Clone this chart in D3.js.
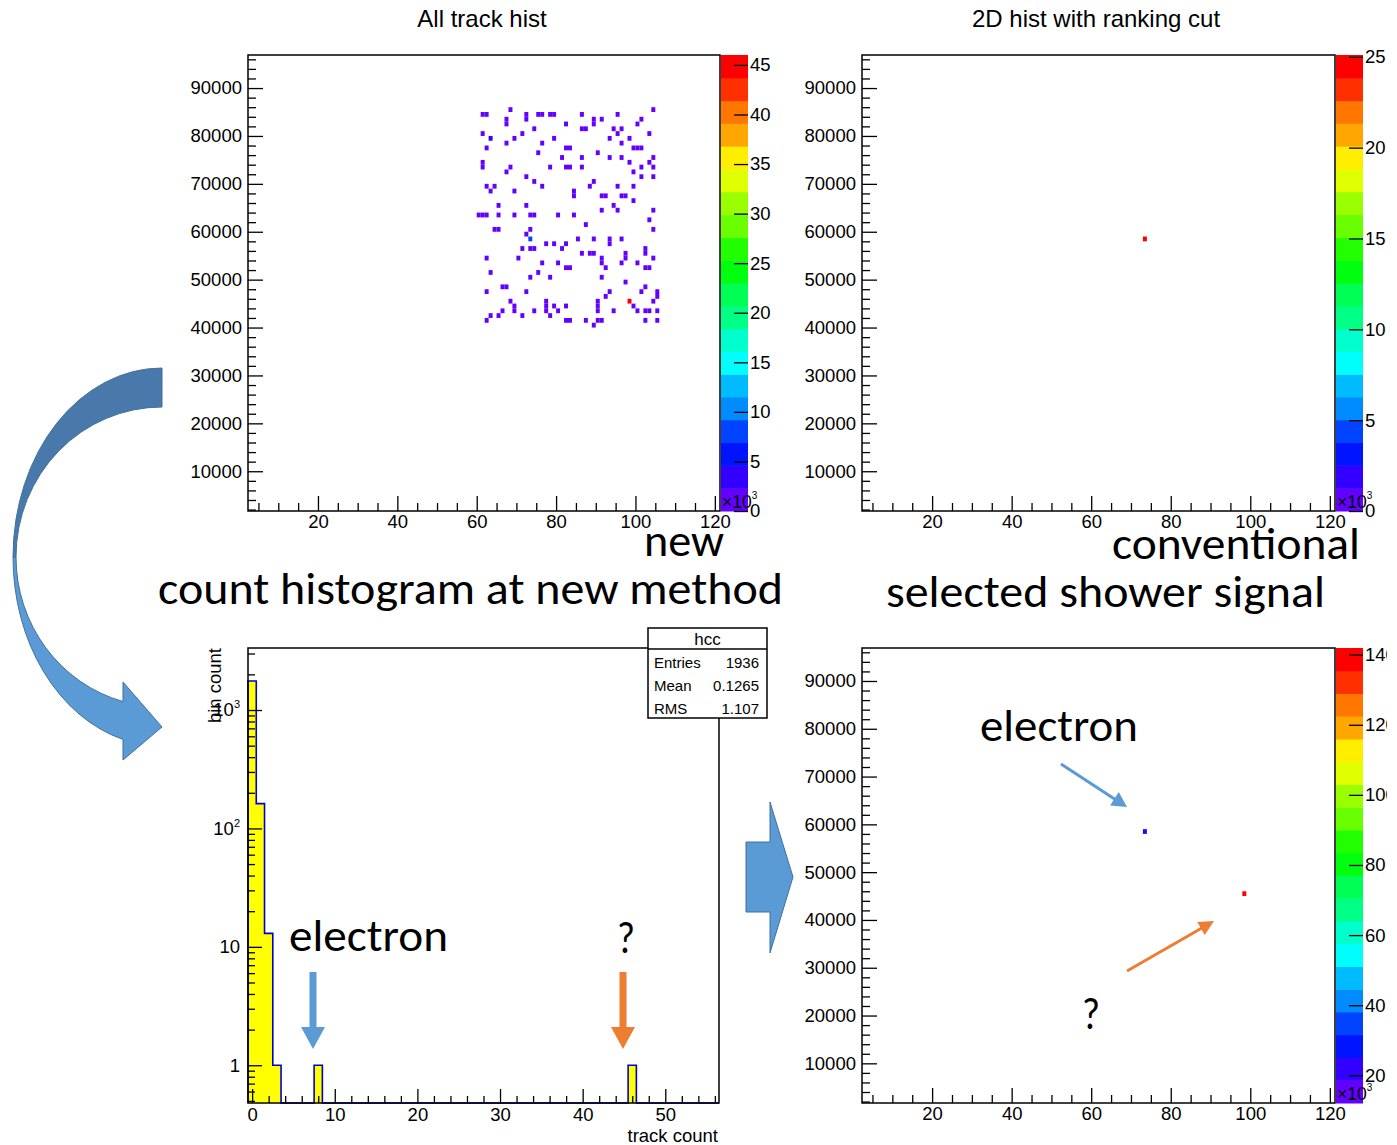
<!DOCTYPE html>
<html><head><meta charset="utf-8">
<script src="https://cdn.jsdelivr.net/npm/d3@7"></script>
<style>
html,body{margin:0;padding:0;background:#fff;}
svg{display:block;}
</style></head><body>
<svg id="c" width="1397" height="1145"></svg>
<script>
// ---------------- data ----------------
// "All track hist": occupied 1k x 1k bins (x in units of 10^3, y raw), lower bin edges
const allTrackX = [
  68,104,
  61,62,75,76,78,79,86,95,72,
  67,72,89,91,101,
  67,89,100,82,
  74,86,87,94,96,
  95,61,71,103,
  63,69,79,93,98,
  67,76,96,
  62,82,83,99,100,101,
  75,90,
  81,86,93,96,104,
  61,98,103,
  61,68,78,82,83,86,101,104,
  67,99,
  72,101,104,
  74,89,
  62,64,76,88,95,99,
  63,69,84,
  84,91,92,96,97,
  99,
  65,72,94,
  91,95,104,
  60,61,62,65,69,73,74,80,84,
  103,
  87,
  64,65,73,104,
  72,
  73,85,89,93,96,
  93,77,79,82,
  71,73,74,81,102,
  86,88,89,97,102,
  62,70,91,97,104,
  91,76,80,96,100,
  82,83,92,102,103,
  63,75,
  73,78,91,
  97,
  66,67,102,
  62,72,93,101,105,
  105,92,
  68,98,104,77,90,
  69,77,79,82,90,99,
  66,69,77,80,90,100,103,105,94,102,74,
  63,65,71,78,
  62,82,83,87,90,91,102,105,
  89
];
const allTrackY = [
  85000,85000,
  84000,84000,84000,84000,84000,84000,84000,84000,84000,
  83000,83000,83000,83000,83000,
  82000,82000,82000,82000,
  81000,81000,81000,81000,81000,
  80000,80000,80000,80000,
  79000,79000,79000,79000,79000,
  78000,78000,78000,
  77000,77000,77000,77000,77000,77000,
  76000,76000,
  75000,75000,75000,75000,75000,
  74000,74000,74000,
  73000,73000,73000,73000,73000,73000,73000,73000,
  72000,72000,
  71000,71000,71000,
  70000,70000,
  69000,69000,69000,69000,69000,69000,
  68000,68000,68000,
  67000,67000,67000,67000,67000,
  66000,
  65000,65000,65000,
  64000,64000,64000,
  63000,63000,63000,63000,63000,63000,63000,63000,63000,
  62000,
  61000,
  60000,60000,60000,60000,
  59000,
  58000,58000,58000,58000,58000,
  57000,57000,57000,57000,
  56000,56000,56000,56000,56000,
  55000,55000,55000,55000,55000,
  54000,54000,54000,54000,54000,
  53000,53000,53000,53000,53000,
  52000,52000,52000,52000,52000,
  51000,51000,
  50000,50000,50000,
  49000,
  48000,48000,48000,
  47000,47000,47000,47000,47000,
  46000,46000,
  45000,45000,45000,45000,45000,
  44000,44000,44000,44000,44000,44000,
  43000,43000,43000,43000,43000,43000,43000,43000,43000,43000,43000,
  42000,42000,42000,42000,
  41000,41000,41000,41000,41000,41000,41000,41000,
  40000
];
const allTrackN = [
  1,1,
  1,1,1,1,1,1,1,1,1,
  1,1,1,1,1,
  1,1,1,1,
  1,1,1,1,1,
  1,1,1,1,
  3,1,1,1,1,
  1,1,1,
  1,1,1,1,1,1,
  1,1,
  1,1,1,1,1,
  1,1,1,
  1,1,1,1,1,1,1,1,
  1,1,
  1,1,1,
  1,1,
  1,1,1,1,1,1,
  1,1,1,
  1,1,1,1,1,
  1,
  1,1,1,
  1,1,1,
  1,1,1,1,1,1,1,1,1,
  1,
  1,
  1,1,1,1,
  1,
  8,1,1,1,1,
  1,1,1,1,
  1,1,1,1,1,
  1,1,1,1,1,
  1,1,1,1,1,
  1,1,1,1,1,
  1,1,1,1,1,
  1,1,
  1,1,1,
  1,
  1,1,1,
  1,1,1,1,1,
  1,1,
  1,46,1,1,1,
  1,1,1,1,1,1,
  1,1,1,1,1,1,1,1,1,1,1,
  1,1,1,1,
  1,1,1,1,1,1,1,1,
  1
];

// "2D hist with ranking cut"
const rankCutX = [73];
const rankCutY = [58000];
const rankCutN = [25];

// selected shower signal
const selectedX = [73, 98];
const selectedY = [58000, 45000];
const selectedN = [24, 142];

// "hcc": track count per bin
const trackCountValue = [0, 1, 2, 3, 8, 46];
const trackCountBins  = [1758, 162, 13, 1, 1, 1];

// axis ranges and ticks
const xDomain2D = [2.37, 121.3];          // x10^3
const yDomain2D = [1700, 96900];
const x2DMajor = [20, 40, 60, 80, 100, 120];
const x2DMinor = [5,10,15,25,30,35,45,50,55,65,70,75,85,90,95,105,110,115];
const y2DMajor = [10000,20000,30000,40000,50000,60000,70000,80000,90000];
const y2DMinor = d3.range(2000, 96001, 2000).filter(v => v % 10000 !== 0);

const zAllDomain = [0, 46],   zAllTicks = [0,5,10,15,20,25,30,35,40,45];
const zCutDomain = [0, 25.1], zCutTicks = [0,5,10,15,20,25];
const zSelDomain = [12.1, 141.9], zSelTicks = [20,40,60,80,100,120,140];

const histXDomain = [-0.5, 56.5];
const histYDomain = [0.48, 3340];
const histXMajor = [0, 10, 20, 30, 40, 50];
const histXMinor = [2,4,6,8,12,14,16,18,22,24,26,28,32,34,36,38,42,44,46,48,52,54,56];
const histYMajor = [1, 10, 100, 1000];
const histYMinor = [0.5,0.6,0.7,0.8,0.9,2,3,4,5,6,7,8,9,20,30,40,50,60,70,80,90,200,300,400,500,600,700,800,900,2000,3000];

// ---------------- layout ----------------
const FONT = '"Liberation Sans", Arial, Helvetica, sans-serif';
const NOTE_FONT = 'Carlito, Calibri, Lato, "Open Sans", sans-serif';
const AXIS_SIZE = 18.5;
const PANELS = {
  all:  {left: 248, top: 55,  width: 472, height: 456},
  cut:  {left: 862, top: 55,  width: 473, height: 456},
  sel:  {left: 862, top: 648, width: 473, height: 455},
  hist: {left: 248, top: 648, width: 471, height: 455}
};

const svg = d3.select('#c');
svg.append('rect').attr('width', 1397).attr('height', 1145).attr('fill', '#fff');
svg.append('defs').append('clipPath').attr('id', 'edge')
  .append('rect').attr('x', 0).attr('y', 0).attr('width', 1387).attr('height', 1145);

// ROOT pretty palette: 50 HLS colours, violet -> red, shown in 20 contour levels
const NLEV = 20, NCOL = 50;
function levelColor(i) {
  const idx = Math.floor(0.01 + (i + 0.99) * NCOL / NLEV);
  return d3.hsl(280 - (idx + 1) * (280 / NCOL), 1, 0.5).formatHex();
}

function styleAxis(sel, size) {
  sel.attr('font-family', FONT).attr('font-size', size || AXIS_SIZE);
  sel.select('.domain').remove();
  sel.selectAll('line').attr('stroke', '#000').attr('stroke-width', 1.3);
  sel.selectAll('text').attr('fill', '#000');
}

function times10(g, xPos, yPos) {
  const t = g.append('text').attr('x', xPos).attr('y', yPos)
    .attr('font-family', FONT).attr('font-size', 17.5).attr('fill', '#000');
  t.append('tspan').text('\u00d710');
  t.append('tspan').attr('font-size', 10).attr('dy', -9).text('3');
}

function draw2D(p, xs, ys, ns, zDomain, zTicks, clipLabels) {
  const g = svg.append('g');
  const x = d3.scaleLinear().domain(xDomain2D).range([p.left, p.left + p.width]);
  const y = d3.scaleLinear().domain(yDomain2D).range([p.top + p.height, p.top]);
  const zLev = d3.scaleLinear().domain(zDomain).range([0, NLEV]);
  const level = v => Math.max(0, Math.min(NLEV - 1, Math.floor(zLev(v))));
  const cells = xs.map((d, i) => ({x: d, y: ys[i], n: ns[i]}));

  g.append('g').selectAll('rect').data(cells).join('rect')
    .attr('x', d => x(d.x)).attr('y', d => y(d.y + 1000))
    .attr('width', d => x(d.x + 1) - x(d.x))
    .attr('height', d => y(d.y) - y(d.y + 1000))
    .attr('fill', d => levelColor(level(d.n)));

  g.append('rect').attr('x', p.left).attr('y', p.top).attr('width', p.width).attr('height', p.height)
    .attr('fill', 'none').attr('stroke', '#000').attr('stroke-width', 1.5);

  const bottom = p.top + p.height;
  g.append('g').attr('transform', `translate(0,${bottom})`)
    .call(d3.axisBottom(x).tickValues(x2DMinor).tickSize(-8).tickFormat(''))
    .call(styleAxis);
  g.append('g').attr('transform', `translate(0,${bottom})`)
    .call(d3.axisBottom(x).tickValues(x2DMajor).tickSize(-15).tickPadding(4).tickFormat(d3.format('d')))
    .call(styleAxis);
  g.append('g').attr('transform', `translate(${p.left},0)`)
    .call(d3.axisLeft(y).tickValues(y2DMinor).tickSize(-8).tickFormat(''))
    .call(styleAxis);
  g.append('g').attr('transform', `translate(${p.left},0)`)
    .call(d3.axisLeft(y).tickValues(y2DMajor).tickSize(-15).tickPadding(6).tickFormat(d3.format('d')))
    .call(styleAxis);

  // colour bar
  const cbL = p.left + p.width + 1, cbW = 27;
  const zy = d3.scaleLinear().domain(zDomain).range([bottom, p.top]);
  const step = (zDomain[1] - zDomain[0]) / NLEV;
  g.append('g').selectAll('rect').data(d3.range(NLEV)).join('rect')
    .attr('x', cbL).attr('width', cbW)
    .attr('y', i => zy(zDomain[0] + (i + 1) * step))
    .attr('height', i => zy(zDomain[0] + i * step) - zy(zDomain[0] + (i + 1) * step) + 0.5)
    .attr('fill', i => levelColor(i));
  const holder = g.append('g');
  if (clipLabels) holder.attr('clip-path', 'url(#edge)');
  holder.append('g').attr('transform', `translate(${cbL + cbW},0)`)
    .call(d3.axisRight(zy).tickValues(zTicks).tickSize(-14).tickPadding(2).tickFormat(d3.format('d')))
    .call(styleAxis);

  times10(g, p.left + p.width + 2, bottom - 3);
  return {x, y};
}

// ---------------- 2D panels ----------------
draw2D(PANELS.all, allTrackX, allTrackY, allTrackN, zAllDomain, zAllTicks, false);
draw2D(PANELS.cut, rankCutX, rankCutY, rankCutN, zCutDomain, zCutTicks, false);
draw2D(PANELS.sel, selectedX, selectedY, selectedN, zSelDomain, zSelTicks, true);

svg.append('text').attr('x', 482).attr('y', 27).attr('text-anchor', 'middle')
  .attr('font-family', FONT).attr('font-size', 24).text('All track hist');
svg.append('text').attr('x', 1096).attr('y', 27).attr('text-anchor', 'middle')
  .attr('font-family', FONT).attr('font-size', 24).text('2D hist with ranking cut');

// ---------------- track count histogram ----------------
(function () {
  const p = PANELS.hist;
  const g = svg.append('g');
  const bottom = p.top + p.height;
  const x = d3.scaleLinear().domain(histXDomain).range([p.left, p.left + p.width]);
  const y = d3.scaleLog().domain(histYDomain).range([bottom, p.top]);

  const nBins = histXDomain[1] - histXDomain[0];
  const counts = d3.range(nBins).map(b => {
    const k = trackCountValue.indexOf(b);
    return k < 0 ? 0 : trackCountBins[k];
  });
  const pts = [[x(histXDomain[0]), bottom]];
  counts.forEach((c, b) => {
    const v = c > 0 ? y(c) : bottom;
    pts.push([x(b - 0.5), v], [x(b + 0.5), v]);
  });
  pts.push([x(histXDomain[1]), bottom]);
  const line = d3.line();
  g.append('path').attr('d', line(pts) + 'Z').attr('fill', '#ffff00').attr('stroke', 'none');
  g.append('path').attr('d', line(pts)).attr('fill', 'none').attr('stroke', '#0000d0').attr('stroke-width', 1.6);

  g.append('rect').attr('x', p.left).attr('y', p.top).attr('width', p.width).attr('height', p.height)
    .attr('fill', 'none').attr('stroke', '#000').attr('stroke-width', 1.5);

  g.append('g').attr('transform', `translate(0,${bottom})`)
    .call(d3.axisBottom(x).tickValues(histXMinor).tickSize(-7).tickFormat(''))
    .call(styleAxis);
  g.append('g').attr('transform', `translate(0,${bottom})`)
    .call(d3.axisBottom(x).tickValues(histXMajor).tickSize(-14).tickPadding(5).tickFormat(d3.format('d')))
    .call(styleAxis);
  g.append('g').attr('transform', `translate(${p.left},0)`)
    .call(d3.axisLeft(y).tickValues(histYMinor).tickSize(-7).tickFormat(''))
    .call(styleAxis);
  const ya = g.append('g').attr('transform', `translate(${p.left},0)`)
    .call(d3.axisLeft(y).tickValues(histYMajor).tickSize(-14).tickPadding(8).tickFormat(d => d < 100 ? String(d) : ''))
    .call(styleAxis);
  ya.selectAll('.tick').each(function (d) {
    if (d >= 100) {
      const t = d3.select(this).select('text');
      t.append('tspan').text('10');
      t.append('tspan').attr('font-size', 11).attr('dy', -8).text(Math.round(Math.log10(d)));
    }
  });

  g.append('text').attr('x', p.left + p.width - 1).attr('y', 1142).attr('text-anchor', 'end')
    .attr('font-family', FONT).attr('font-size', AXIS_SIZE).text('track count');
  g.append('text').attr('transform', `translate(221,${p.top}) rotate(-90)`).attr('text-anchor', 'end')
    .attr('font-family', FONT).attr('font-size', AXIS_SIZE).text('bin count');

  // statistics box
  const entries = d3.sum(trackCountBins);
  const mean = d3.sum(trackCountValue.map((v, i) => v * trackCountBins[i])) / entries;
  const m2 = d3.sum(trackCountValue.map((v, i) => v * v * trackCountBins[i])) / entries;
  const rms = Math.sqrt(m2 - mean * mean);
  const sb = {x: 648, y: 628, w: 119, h: 90};
  g.append('rect').attr('x', sb.x).attr('y', sb.y).attr('width', sb.w).attr('height', sb.h)
    .attr('fill', '#fff').attr('stroke', '#000').attr('stroke-width', 1.5);
  g.append('line').attr('x1', sb.x).attr('x2', sb.x + sb.w).attr('y1', sb.y + 21).attr('y2', sb.y + 21)
    .attr('stroke', '#000').attr('stroke-width', 1.3);
  g.append('text').attr('x', sb.x + sb.w / 2).attr('y', sb.y + 17).attr('text-anchor', 'middle')
    .attr('font-family', FONT).attr('font-size', 17).text('hcc');
  const rows = [['Entries', String(entries)], ['Mean', mean.toFixed(4)], ['RMS', rms.toPrecision(4)]];
  rows.forEach((r, i) => {
    const yy = sb.y + 40 + i * 23;
    g.append('text').attr('x', sb.x + 6).attr('y', yy).attr('font-family', FONT).attr('font-size', 15).text(r[0]);
    g.append('text').attr('x', sb.x + sb.w - 8).attr('y', yy).attr('text-anchor', 'end')
      .attr('font-family', FONT).attr('font-size', 15).text(r[1]);
  });
})();

// ---------------- notes and arrows ----------------
const BLUE = '#5b9bd5', BLUE_EDGE = '#41719c', BLUE_DARK = '#4879aa', ORANGE = '#ed7d31';

function note(txt, xPos, yPos, len, anchor) {
  const t = svg.append('text').attr('x', xPos).attr('y', yPos)
    .attr('font-family', NOTE_FONT).attr('font-size', 46).attr('fill', '#000')
    .attr('text-anchor', anchor || 'start').text(txt);
  if (len) t.attr('textLength', len).attr('lengthAdjust', 'spacingAndGlyphs');
}
note('new', 724, 556, 80, 'end');
note('count histogram at new method', 158, 604, 625);
note('conventional', 1112, 559, 248);
note('selected shower signal', 886, 607, 439);
note('electron', 289, 951, 159);
note('?', 617, 953, 18);
note('electron', 980, 741, 158);
note('?', 1082, 1029, 18);

function downArrow(cx, yTop, yTip, shaftW, headW, headL, color) {
  const yh = yTip - headL;
  const pts = [[cx - shaftW / 2, yTop], [cx + shaftW / 2, yTop], [cx + shaftW / 2, yh], [cx + headW / 2, yh],
               [cx, yTip], [cx - headW / 2, yh], [cx - shaftW / 2, yh]];
  svg.append('path').attr('d', d3.line()(pts) + 'Z').attr('fill', color);
}
downArrow(313, 972, 1049, 7, 24, 22, BLUE);
downArrow(623, 972, 1049, 7, 24, 22, ORANGE);

function lineArrow(x0, y0, x1, y1, headL, headW, color) {
  const dx = x1 - x0, dy = y1 - y0, L = Math.hypot(dx, dy), ux = dx / L, uy = dy / L;
  const bx = x1 - ux * headL, by = y1 - uy * headL;
  svg.append('line').attr('x1', x0).attr('y1', y0).attr('x2', bx + ux * 2).attr('y2', by + uy * 2)
    .attr('stroke', color).attr('stroke-width', 3);
  const pts = [[x1, y1], [bx - uy * headW / 2, by + ux * headW / 2], [bx + uy * headW / 2, by - ux * headW / 2]];
  svg.append('path').attr('d', d3.line()(pts) + 'Z').attr('fill', color);
}
lineArrow(1061, 764, 1127, 807, 15, 16, BLUE);
lineArrow(1127, 971, 1214, 921, 15, 15, ORANGE);

// block arrow between the lower panels
(function () {
  const pts = [[746, 842], [770, 842], [770, 802], [793, 877], [770, 953], [770, 912], [746, 912]];
  svg.append('path').attr('d', d3.line()(pts) + 'Z').attr('fill', BLUE)
    .attr('stroke', BLUE_EDGE).attr('stroke-width', 1);
})();

// curved arrow from the top-left panel down to the histogram
(function () {
  const c = {cx: 162, cy: 557, ro: [149, 189], ri: [146, 150], endX: 123, tipY: 727, barbTop: 682, barbBot: 760};
  const yAt = (r, xx) => c.cy + r[1] * Math.sqrt(1 - Math.pow((xx - c.cx) / r[0], 2));
  const oL = c.cx - c.ro[0], iL = c.cx - c.ri[0];
  const back = `M${c.cx},${c.cy - c.ro[1]} A${c.ro[0]},${c.ro[1]} 0 0 0 ${oL},${c.cy}` +
               ` L${iL},${c.cy} A${c.ri[0]},${c.ri[1]} 0 0 1 ${c.cx},${c.cy - c.ri[1]} Z`;
  svg.append('path').attr('d', back).attr('fill', BLUE_DARK).attr('stroke', BLUE_EDGE).attr('stroke-width', 1);
  const yo = yAt(c.ro, c.endX), yi = yAt(c.ri, c.endX);
  const front = `M${oL},${c.cy} A${c.ro[0]},${c.ro[1]} 0 0 0 ${c.endX},${yo}` +
                ` L${c.endX},${c.barbBot} L${c.cx},${c.tipY} L${c.endX},${c.barbTop} L${c.endX},${yi}` +
                ` A${c.ri[0]},${c.ri[1]} 0 0 1 ${iL},${c.cy} Z`;
  svg.append('path').attr('d', front).attr('fill', BLUE).attr('stroke', BLUE_EDGE).attr('stroke-width', 1);
})();
</script>
</body></html>
